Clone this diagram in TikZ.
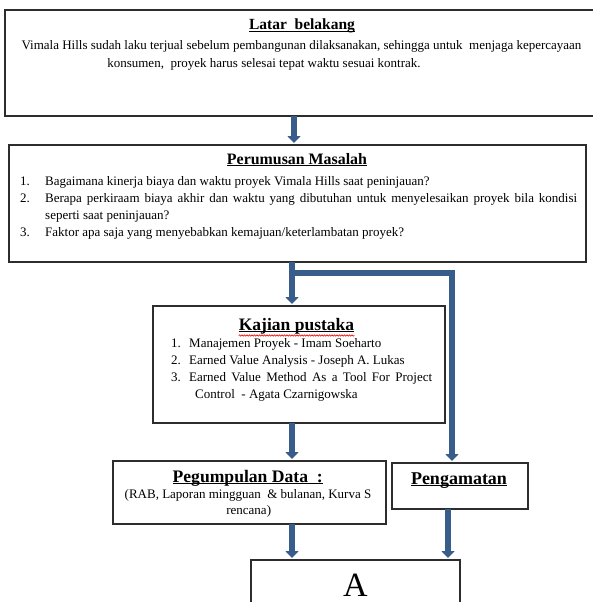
\documentclass[tikz,border=0pt]{standalone}
\usepackage{fontspec}
\setmainfont{Liberation Serif}
\usetikzlibrary{arrows.meta,decorations.pathmorphing}
\definecolor{flowblue}{RGB}{56,93,138}
\definecolor{boxgray}{RGB}{45,45,45}
\newsavebox{\myulbox}
\newcommand{\uln}[1]{\sbox{\myulbox}{#1}\rlap{\rule[-2.4pt]{\wd\myulbox}{1pt}}\usebox{\myulbox}}
\newcommand{\bodyfont}{\fontsize{13}{15}\selectfont}
\newcommand{\titlefont}{\fontsize{17}{20}\selectfont\bfseries}
\begin{document}
\begin{tikzpicture}[x=1pt,y=-1pt,
  panel/.style={draw=boxgray,line width=1.4pt,anchor=north west,inner sep=0pt,outer sep=0pt},
  flow/.style={draw=flowblue,line width=5.5pt,line join=miter,shorten >=2pt,-{Triangle[width=13pt,length=7pt]}},
  ttl/.style={anchor=base,inner sep=0pt,font=\titlefont},
  txt/.style={anchor=base west,inner sep=0pt,font=\bodyfont},
  ctxt/.style={anchor=base,inner sep=0pt,font=\bodyfont}]
\useasboundingbox (0,0) rectangle (593,602);
\fill[white] (0,0) rectangle (593,602);

% boxes
\node[panel,minimum width=592pt,minimum height=106pt] (lb) at (5,10) {};
\node[panel,minimum width=577pt,minimum height=117pt] (pm) at (9,145) {};
\node[panel,minimum width=292pt,minimum height=117pt] (kp) at (153,306) {};
\node[panel,minimum width=273pt,minimum height=63pt] (pd) at (113,461) {};
\node[panel,minimum width=136pt,minimum height=46pt] (pg) at (392,463) {};
\node[panel,minimum width=209pt,minimum height=60pt] (aa) at (251,560) {};

% Latar belakang
\node[ttl,font=\fontsize{15.5}{18}\selectfont\bfseries] (lbT) at (302,30) {\uln{Latar\ \ belakang}};
\node[ctxt] (lb1) at (301.5,50) {Vimala Hills sudah laku terjual sebelum pembangunan dilaksanakan, sehingga untuk\ \ menjaga kepercayaan};
\node[ctxt] (lb2) at (264,67) {konsumen,\ \ proyek harus selesai tepat waktu sesuai kontrak.};

% Perumusan Masalah
\node[ttl,font=\fontsize{15.9}{18}\selectfont\bfseries] (pmT) at (297,164) {\uln{Perumusan Masalah}};
\node[txt] (pmN1) at (20,185) {1.};
\node[txt] (pm1) at (45,185) {Bagaimana kinerja biaya dan waktu proyek Vimala Hills saat peninjauan?};
\node[txt] (pmN2) at (20,202) {2.};
\node[txt] (pm2a) at (45,202) {\makebox[532pt][s]{Berapa perkiraam biaya akhir dan waktu yang dibutuhan untuk menyelesaikan proyek bila kondisi}};
\node[txt] (pm2b) at (45,219) {seperti saat peninjauan?};
\node[txt] (pmN3) at (20,236) {3.};
\node[txt] (pm3) at (45,236) {Faktor apa saja yang menyebabkan kemajuan/keterlambatan proyek?};

% Kajian pustaka
\node[ttl,font=\fontsize{17.5}{20}\selectfont\bfseries] (kpT) at (296.5,330) {\uln{Kajian pustaka}};
\draw[red,line width=0.6pt,decorate,decoration={snake,amplitude=0.7pt,segment length=2.5pt}]
  ([yshift=-5.5pt]kpT.base west) -- ([yshift=-5.5pt]kpT.base east);
\node[txt] (kpN1) at (171,347) {1.};
\node[txt] (kp1) at (189,347) {Manajemen Proyek - Imam Soeharto};
\node[txt] (kpN2) at (171,364) {2.};
\node[txt] (kp2) at (189,364) {Earned Value Analysis - Joseph A. Lukas};
\node[txt] (kpN3) at (171,381) {3.};
\node[txt] (kp3a) at (189,381) {\makebox[243pt][s]{Earned Value Method As a Tool For Project}};
\node[txt] (kp3b) at (195,398.5) {Control\ \ - Agata Czarnigowska};

% Pegumpulan Data
\node[ttl,font=\fontsize{17.6}{20}\selectfont\bfseries] (pdT) at (247.7,482) {\uln{Pegumpulan Data\ \ :}};
\node[ctxt] (pd1) at (248,498) {(RAB, Laporan mingguan\ \ \& bulanan, Kurva S};
\node[ctxt] (pd2) at (248.7,514.5) {rencana)};

% Pengamatan
\node[ttl,font=\fontsize{18}{20}\selectfont\bfseries] (pgT) at (459,484) {\uln{Pengamatan}};

% A
\node[anchor=base,inner sep=0pt,font=\fontsize{34}{40}\selectfont] (aT) at (355.5,596) {A};

% connectors
\coordinate (x1) at (294,0);
\coordinate (x2) at (292,0);
\coordinate (x3) at (452,0);
\coordinate (x4) at (448,0);
\coordinate (br) at (292,273);
\draw[flow] (lb.south -| x1) -- (pm.north -| x1);
\draw[flow] (pm.south -| x2) -- (kp.north -| x2);
\draw[flow] (br) -| (pg.north -| x3);
\draw[flow] (kp.south -| x2) -- (pd.north -| x2);
\draw[flow] (pd.south -| x2) -- (aa.north -| x2);
\draw[flow] (pg.south -| x4) -- (aa.north -| x4);
\end{tikzpicture}
\end{document}
